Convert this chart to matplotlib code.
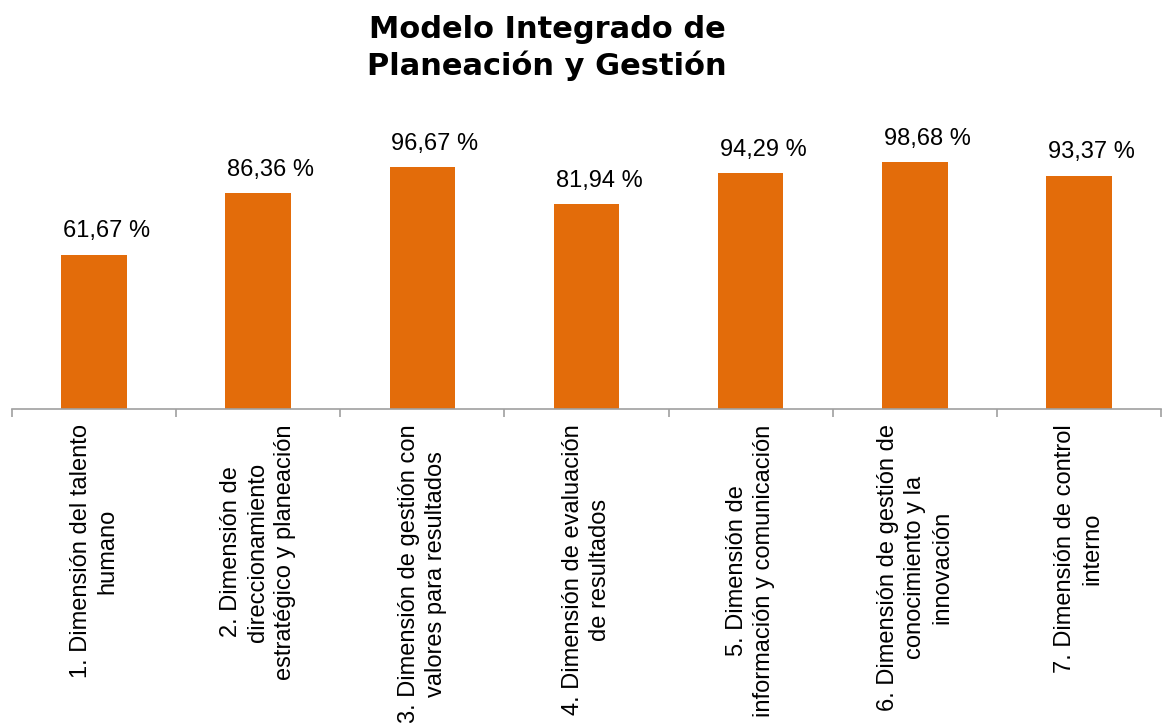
import matplotlib
matplotlib.use("Agg")
import matplotlib.pyplot as plt
import numpy as np

categories = [
    "1. Dimensión del talento\nhumano",
    "2. Dimensión de\ndireccionamiento\nestratégico y planeación",
    "3. Dimensión de gestión con\nvalores para resultados",
    "4. Dimensión de evaluación\nde resultados",
    "5. Dimensión de\ninformación y comunicación",
    "6. Dimensión de gestión de\nconocimiento y la\ninnovación",
    "7. Dimensión de control\ninterno",
]
values = [61.67, 86.36, 96.67, 81.94, 94.29, 98.68, 93.37]
value_labels = ["61,67 %", "86,36 %", "96,67 %", "81,94 %", "94,29 %", "98,68 %", "93,37 %"]
title = "Modelo Integrado de\nPlaneación y Gestión"

W, H = 1162, 725
fig = plt.figure(figsize=(W / 100, H / 100), dpi=100)
plt.rcParams['font.family'] = ['Liberation Sans', 'DejaVu Sans']

left, right = 12 / W, 1161 / W
bottom = (H - 409) / H
ymax = 120
top_px = 409 - 2.5 * ymax
ax = fig.add_axes([left, bottom, right - left, (409 - top_px) / H])

x = np.arange(len(categories))
bars = ax.bar(x, values, width=0.4, color="#E36C0A", zorder=2)
ax.set_xlim(-0.5, len(categories) - 0.5)
ax.set_ylim(0, ymax)

for xi, v, lab in zip(x, values, value_labels):
    ax.annotate(lab, (xi, v), xytext=(9, 9), textcoords="offset points",
                ha="center", va="bottom", fontsize=17, color="#000000")

for s in ["top", "right", "left"]:
    ax.spines[s].set_visible(False)
ax.spines["bottom"].set_color("#A0A0A0")
ax.spines["bottom"].set_linewidth(1.2)
ax.set_yticks([])

ax.set_xticks(x)
ax.set_xticklabels(categories, rotation=90, ha="center", va="top",
                   multialignment="center", fontsize=17, linespacing=1.3)
ax.tick_params(axis="x", which="major", length=0, pad=11)
ax.set_xticks(np.arange(-0.5, len(categories)), minor=True)
ax.tick_params(axis="x", which="minor", length=6, color="#A0A0A0", width=1.2)

fig.text(547 / W, 1 - 48 / H, title, ha="center", va="center",
         fontsize=22, fontweight="heavy", family=["DejaVu Sans"], linespacing=1.3)

fig.savefig("out.png", dpi=100)
